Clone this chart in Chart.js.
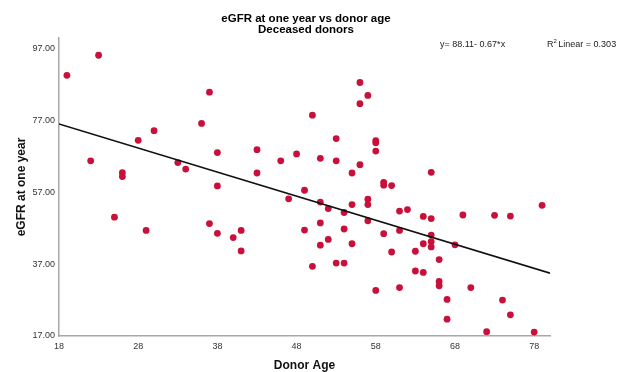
<!DOCTYPE html>
<html>
<head>
<meta charset="utf-8">
<script src="https://cdn.jsdelivr.net/npm/chart.js@4"></script>
<style>
  html, body { margin: 0; padding: 0; background: #fff; }
  #wrap { width: 624px; height: 372px; position: relative; }
</style>
</head>
<body>
<div id="wrap"><canvas id="c" width="624" height="372"></canvas></div>
<script>
const titleLines = ["eGFR at one year vs donor age", "Deceased donors"];
const xTitle = "Donor Age";
const yTitle = "eGFR at one year";
const equationText = "y= 88.11- 0.67*x";
const r2Value = "0.303";

const xTicks = [18, 28, 38, 48, 58, 68, 78];
const yTicks = [17, 37, 57, 77, 97];

const donorAge = [19, 22, 23, 25, 26, 26, 28, 29, 30, 33, 34, 36, 37, 37, 38, 38, 38, 40, 41, 41,
  43, 43, 46, 47, 48, 49, 49, 50, 50, 51, 51, 51, 51, 52, 52, 53, 53, 53, 54, 54,
  54, 55, 55, 55, 56, 56, 56, 57, 57, 57, 57, 58, 58, 58, 58, 59, 59, 59, 60, 60,
  61, 61, 61, 62, 63, 63, 64, 64, 64, 65, 65, 65, 65, 65, 66, 66, 66, 67, 67, 68,
  69, 70, 72, 73, 74, 75, 75, 78, 79];
const egfr = [89.6, 65.8, 95.2, 50.1, 62.5, 61.4, 71.5, 46.4, 74.2, 65.3, 63.5, 76.2, 84.9, 48.3, 68.1, 58.8, 45.6, 44.4, 46.4, 40.7,
  68.9, 62.4, 65.8, 55.2, 67.7, 57.6, 46.5, 78.5, 36.4, 66.5, 54.3, 48.5, 42.3, 52.5, 43.9, 72.0, 65.8, 37.3, 51.4, 46.8,
  37.3, 62.4, 53.6, 42.7, 87.6, 81.7, 64.7, 84.0, 55.1, 53.6, 49.1, 71.4, 70.8, 68.5, 29.7, 59.8, 59.0, 45.5, 58.9, 40.4,
  51.8, 46.4, 30.5, 52.2, 40.6, 35.1, 50.3, 42.7, 34.7, 62.6, 49.7, 45.1, 43.3, 41.8, 38.3, 32.2, 31.0, 27.2, 21.7, 42.4,
  50.7, 30.5, 18.2, 50.6, 27.0, 50.4, 22.9, 18.1, 53.4];

const regIntercept = 88.11;
const regSlope = -0.67;
const xRange = [18, 80];
const yRange = [17, 100];

const points = donorAge.map((a, i) => ({ x: a, y: egfr[i] }));
const fitLine = xRange.map(x => ({ x: x, y: regIntercept + regSlope * x }));

const FONT = "'Liberation Sans', Arial, sans-serif";

const textPlugin = {
  id: 'textPlugin',
  afterDraw(chart) {
    const ctx = chart.ctx;
    ctx.save();
    ctx.fillStyle = '#000';
    ctx.textAlign = 'center';
    ctx.textBaseline = 'middle';
    ctx.font = "bold 11.5px " + FONT;
    ctx.fillText(titleLines[0], 306, 19);
    ctx.fillText(titleLines[1], 306, 30);
    ctx.font = "9px " + FONT;
    ctx.fillStyle = '#222';
    ctx.textAlign = 'left';
    ctx.fillText(equationText, 440, 45);
    let x = 547;
    ctx.fillText("R", x, 45);
    x += ctx.measureText("R").width;
    ctx.font = "6px " + FONT;
    ctx.fillText("2", x, 41);
    x += ctx.measureText("2").width + 1.5;
    ctx.font = "9px " + FONT;
    ctx.fillText("Linear = " + r2Value, x, 45);
    ctx.restore();
  }
};

new Chart(document.getElementById('c'), {
  data: {
    datasets: [
      {
        type: 'scatter',
        data: points,
        backgroundColor: '#c8103a',
        borderWidth: 0,
        pointRadius: 3.4,
        pointHoverRadius: 3.4,
        order: 2
      },
      {
        type: 'line',
        data: fitLine,
        borderColor: '#111',
        borderWidth: 1.6,
        pointRadius: 0,
        fill: false,
        tension: 0,
        order: 1
      }
    ]
  },
  options: {
    responsive: false,
    animation: false,
    devicePixelRatio: 1,
    layout: { padding: { top: 38, right: 74, left: 0, bottom: 0 } },
    plugins: {
      legend: { display: false },
      title: { display: false },
      tooltip: { enabled: false }
    },
    scales: {
      x: {
        type: 'linear',
        min: xRange[0],
        max: xRange[1],
        afterBuildTicks: s => { s.ticks = xTicks.map(v => ({ value: v })); },
        afterFit: s => { s.height = 36; },
        grid: { display: false, drawTicks: false },
        border: { display: true, color: '#a8a8a8', width: 1.5 },
        ticks: { color: '#333', font: { family: FONT, size: 9 }, padding: 5, maxRotation: 0,
          callback: v => String(v) },
        title: { display: true, text: xTitle, color: '#111',
          font: { family: FONT, size: 12, weight: 'bold', lineHeight: 1.0 },
          padding: { top: 0, bottom: 0 } }
      },
      y: {
        type: 'linear',
        min: yRange[0],
        max: yRange[1],
        afterBuildTicks: s => { s.ticks = yTicks.map(v => ({ value: v })); },
        afterFit: s => { s.width = 59; },
        grid: { display: false, drawTicks: false },
        border: { display: true, color: '#a8a8a8', width: 1.5 },
        ticks: { color: '#333', font: { family: FONT, size: 9 }, padding: 4,
          callback: v => Number(v).toFixed(2) },
        title: { display: true, text: yTitle, color: '#111',
          font: { family: FONT, size: 12, weight: 'bold', lineHeight: 1.0 },
          padding: { top: 16, bottom: 0 } }
      }
    }
  },
  plugins: [textPlugin]
});
</script>
</body>
</html>
